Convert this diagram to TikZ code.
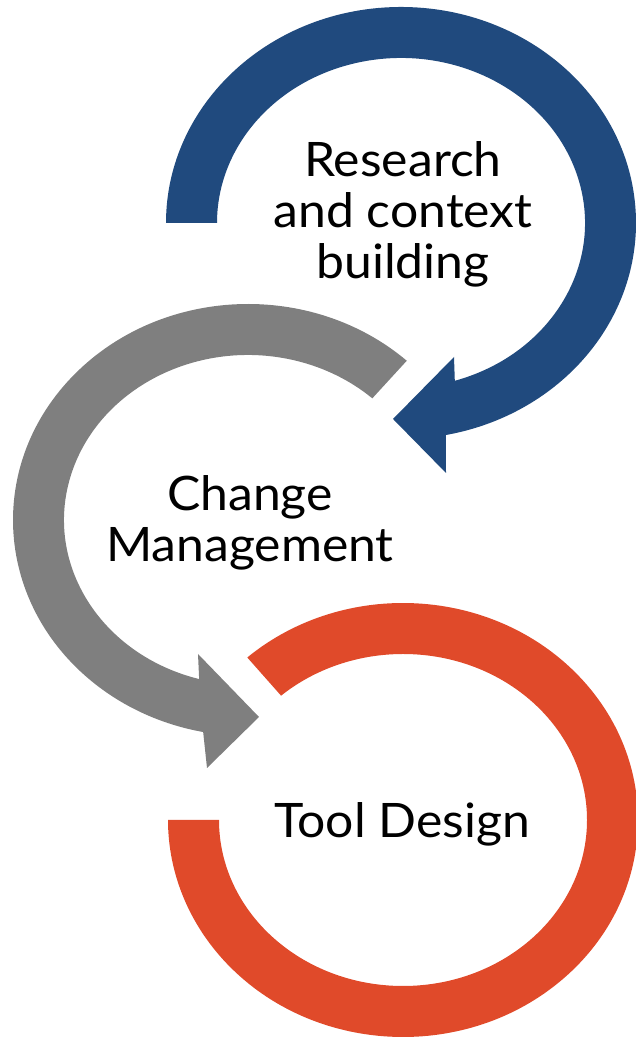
\documentclass[tikz,border=0pt]{standalone}
\usepackage{fontspec}
\setmainfont{Lato}[FakeStretch=1.05]
\usepackage{xcolor}
\usepackage{tikz}
\definecolor{ringblue}{RGB}{32,74,126}
\definecolor{ringgray}{RGB}{127,127,127}
\definecolor{ringred}{RGB}{224,74,42}
\newcommand{\ringfont}{\fontsize{47.5}{51}\selectfont}

\begin{document}
\begin{tikzpicture}[x=1pt,y=1pt,
		steplabel/.style={align=center,font=\ringfont,inner sep=0pt},]
	\useasboundingbox (0,0) rectangle (636,1038);
	% research ring, with its head at the bottom
	\begin{scope}[shift={(401,815)}]
		\fill[ringblue] (180:235pt and 216pt) arc[start angle=180,end angle=-79,x radius=235pt,y radius=216pt]
			-- (45,-250) -- (-8,-196) -- (53,-134) -- (-73:184pt and 165pt)
			arc[start angle=-73,end angle=180,x radius=184pt,y radius=165pt] -- cycle;
		\node[steplabel] (research) at (2,9) {Research\\and context\\building};
	\end{scope}
	% change ring
	\begin{scope}[shift={(248,518)}]
		\fill[ringgray] (47.5:235pt and 216pt) arc[start angle=47.5,end angle=259,x radius=235pt,y radius=216pt]
			-- (-41,-248) -- (11,-197) -- (-50,-134) -- (254.6:184pt and 165pt)
			arc[start angle=254.6,end angle=47.5,x radius=184pt,y radius=165pt] -- cycle;
		\node[steplabel] (change) at (2,-3) {Change\\Management};
	\end{scope}
	% tool ring, no head
	\begin{scope}[shift={(403,218)}]
		\fill[ringred] (131.5:235pt and 217pt) arc[start angle=131.5,end angle=-180,x radius=235pt,y radius=217pt]
			-- (-180:184pt and 166pt)
			arc[start angle=-180,end angle=131.5,x radius=184pt,y radius=166pt] -- cycle;
		\node[steplabel,anchor=base] (tool) at (-1,-18) {Tool Design};
	\end{scope}
\end{tikzpicture}
\end{document}
